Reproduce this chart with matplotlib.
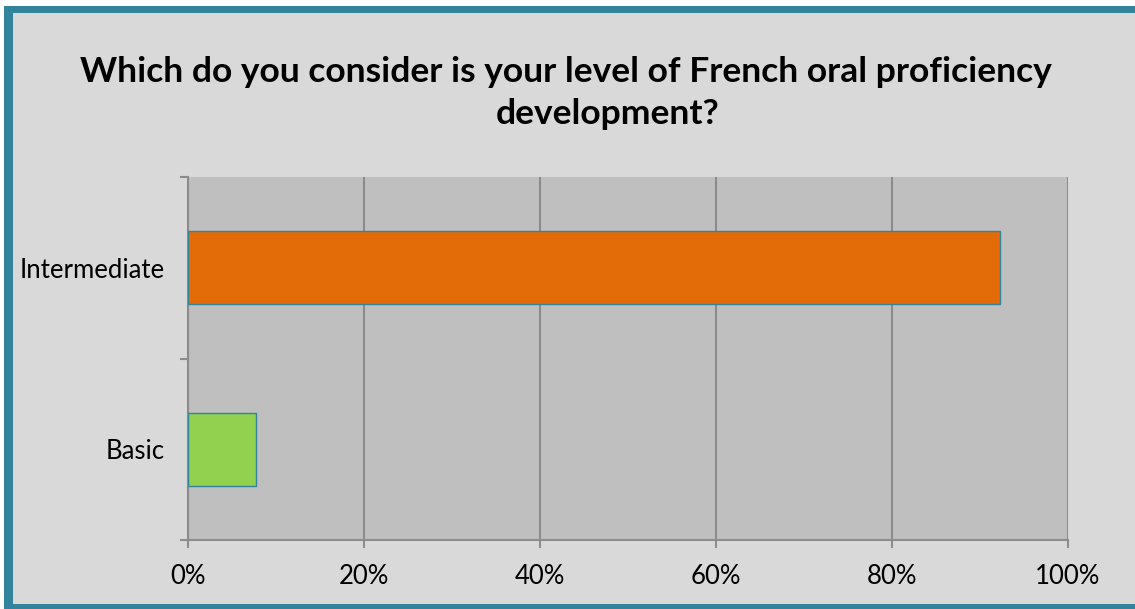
import matplotlib
matplotlib.use("Agg")
import matplotlib.pyplot as plt
from matplotlib.patches import Rectangle
from matplotlib.ticker import FuncFormatter

categories = ["Basic", "Intermediate"]
shares = [1 / 13, 12 / 13]
bar_colors = ["#92D050", "#E36C09"]
x_ticks = [0, 0.2, 0.4, 0.6, 0.8, 1.0]
title_line1 = "Which do you consider is your level of French oral proficiency"
title_line2 = "development?"

W, H = 1135, 609
DPI = 100
plt.rcParams["font.family"] = ["Lato", "DejaVu Sans"]

fig = plt.figure(figsize=(W / DPI, H / DPI), dpi=DPI)
fig.patch.set_facecolor("#D9D9D9")


def px_rect(x0, y0, x1, y1, color, z):
    """Rectangle given in pixel coordinates measured from the top-left."""
    r = Rectangle((x0 / W, 1 - y1 / H), (x1 - x0) / W, (y1 - y0) / H,
                  transform=fig.transFigure, facecolor=color,
                  edgecolor="none", zorder=z)
    fig.patches.append(r)


# white margin outside the frame, then the teal border on left, top, bottom
teal = "#31849B"
px_rect(0, 0, 4, H, "white", -6)
px_rect(0, 0, W, 6, "white", -6)
px_rect(4, 6, 13, H, teal, -5)
px_rect(4, 6, W, 13, teal, -5)
px_rect(4, 604, W, H, teal, -5)

ax = fig.add_axes([188 / W, (H - 540) / H, 880 / W, 363 / H])
ax.set_zorder(2)
ax.set_facecolor("#BFBFBF")

ypos = list(range(len(categories)))
ax.barh(ypos, shares, height=0.4, color=bar_colors,
        edgecolor=teal, linewidth=1.0, zorder=3)

ax.set_xlim(0, 1)
ax.set_ylim(-0.5, len(categories) - 0.5)
ax.set_xticks(x_ticks)
ax.xaxis.set_major_formatter(FuncFormatter(lambda v, _: f"{v * 100:.0f}%"))
ax.set_yticks(ypos)
ax.set_yticklabels(categories)
ax.set_yticks([y - 0.5 for y in range(len(categories) + 1)], minor=True)

grid_c = "#8C8C8C"
ax.grid(axis="x", color=grid_c, linewidth=1.5, zorder=1)
ax.set_axisbelow(True)
for side in ["top", "right"]:
    ax.spines[side].set_visible(False)
for side in ["left", "bottom"]:
    ax.spines[side].set_color(grid_c)
    ax.spines[side].set_linewidth(1.5)

ax.tick_params(axis="y", which="major", length=0, pad=16.5,
               labelsize=18.5, labelcolor="#000000")
ax.tick_params(axis="y", which="minor", length=6, width=1.5, color=grid_c)
ax.tick_params(axis="x", length=6, width=1.5, color=grid_c, pad=11.5,
               labelsize=18.5, labelcolor="#000000")

fig.text(566 / W, 1 - 72 / H, title_line1, ha="center", va="center",
         fontsize=25.5, fontweight="bold", color="#000000", zorder=3)
fig.text(608 / W, 1 - 114 / H, title_line2, ha="center", va="center",
         fontsize=25.5, fontweight="bold", color="#000000", zorder=3)

fig.savefig("out.png", dpi=DPI, facecolor=fig.get_facecolor())
